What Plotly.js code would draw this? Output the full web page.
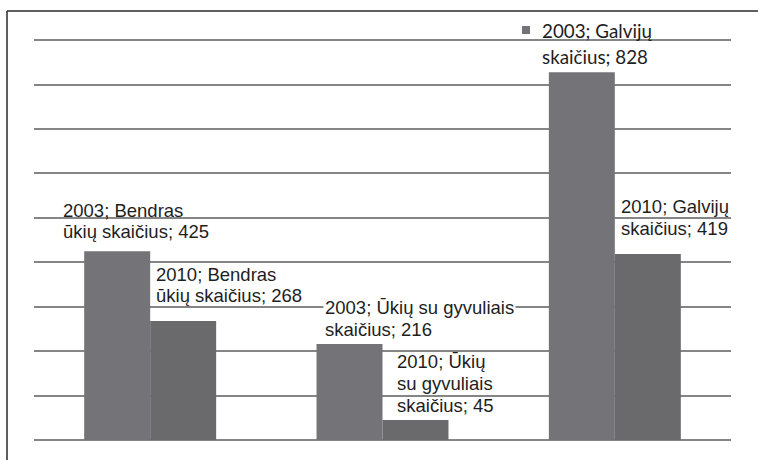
<!DOCTYPE html>
<html>
<head>
<meta charset="utf-8">
<script src="https://cdn.plot.ly/plotly-3.0.1.min.js"></script>
<style>
  html, body { margin: 0; padding: 0; background: #fff; }
  #chart { width: 758px; height: 460px; }
</style>
</head>
<body>
<div id="chart"></div>
<script>
// ---- data ----
const categories = ['Bendras ūkių skaičius', 'Ūkių su gyvuliais skaičius', 'Galvijų skaičius'];
const series = ['2003', '2010'];
const values2003 = [425, 216, 828];
const values2010 = [268, 45, 419];
const seriesValues = [values2003, values2010];

// ---- label layout (word counts per line, pixel offsets from the bar top at the category centre) ----
const labelLayout = [
  [ // 2003
    { words: [2, 3], dx: -89, dy: [40.6, 19.5] },
    { words: [4, 2], dx: -59.5, dy: [36.5, 15], bg: [true, false] },
    { words: [2, 2], dx: -75, dy: [41.5, 15.5], font: 'Lato', size: 18.8, square: true }
  ],
  [ // 2010
    { words: [2, 3], dx: 3.8, dy: [46.2, 25] },
    { words: [2, 2, 2], dx: 12.2, dy: [58.7, 37, 14.2] },
    { words: [2, 2], dx: 3.9, dy: [47.1, 25.5] }
  ]
];

const barColors = ['#747478', '#6a6a6d'];
const textColor = '#1e1e1e';
const gridColor = '#858585';

const traces = series.map((s, si) => ({
  type: 'bar',
  name: s,
  x: categories,
  y: seriesValues[si],
  marker: { color: barColors[si], line: { width: 0 } },
  hoverinfo: 'skip'
}));

const annotations = [];
const shapes = [];
series.forEach((s, si) => {
  categories.forEach((c, ci) => {
    const v = seriesValues[si][ci];
    const words = `${s}; ${c}; ${v}`.split(' ');
    const spec = labelLayout[si][ci];
    let k = 0;
    spec.words.forEach((n, li) => {
      const line = words.slice(k, k + n).join(' ');
      k += n;
      annotations.push({
        x: c, y: v, xref: 'x', yref: 'y',
        xanchor: 'left', yanchor: 'middle',
        xshift: spec.dx, yshift: spec.dy[li],
        text: line, showarrow: false,
        bgcolor: (spec.bg && spec.bg[li]) ? '#ffffff' : 'rgba(0,0,0,0)',
        borderpad: 1,
        font: { family: spec.font ? spec.font : '"Liberation Sans", Arial, sans-serif',
                size: spec.size ? spec.size : 18.5, color: textColor }
      });
    });
    if (spec.square) {
      // small legend-key square in front of the label
      annotations.push({
        x: c, y: v, xref: 'x', yref: 'y',
        xanchor: 'left', yanchor: 'middle',
        xshift: -93, yshift: 42.5,
        text: ' ', showarrow: false,
        width: 8, height: 8, borderpad: 0, borderwidth: 0,
        bgcolor: barColors[0],
        font: { size: 4 }
      });
    }
  });
});

// frame (left and top border lines)
const plotH = 402, plotW = 697, mL = 34, mT = 38;
const px2x = p => (p - mL) / plotW;
const px2y = p => (mT + plotH - p) / plotH;
shapes.push({ type: 'line', xref: 'paper', yref: 'paper',
  x0: px2x(7), x1: px2x(7), y0: px2y(11), y1: px2y(470),
  line: { color: '#2a2a2a', width: 1.5 } });
shapes.push({ type: 'line', xref: 'paper', yref: 'paper',
  x0: px2x(7), x1: px2x(770), y0: px2y(11), y1: px2y(11),
  line: { color: '#2a2a2a', width: 1.5 } });

const layout = {
  width: 758, height: 460,
  margin: { l: mL, r: 758 - mL - plotW, t: mT, b: 460 - mT - plotH, pad: 0 },
  paper_bgcolor: '#ffffff', plot_bgcolor: '#ffffff',
  barmode: 'group', bargap: 0.432, bargroupgap: 0,
  showlegend: false,
  xaxis: { showticklabels: false, showgrid: false, zeroline: false, showline: false, ticks: '', fixedrange: true },
  yaxis: { range: [0, 905], dtick: 100, tick0: 0, showticklabels: false, ticks: '',
           showgrid: true, gridcolor: gridColor, gridwidth: 2,
           zeroline: true, zerolinecolor: gridColor, zerolinewidth: 2, showline: false, fixedrange: true },
  annotations: annotations,
  shapes: shapes
};

Plotly.newPlot('chart', traces, layout, { staticPlot: true, displayModeBar: false });
</script>
</body>
</html>
